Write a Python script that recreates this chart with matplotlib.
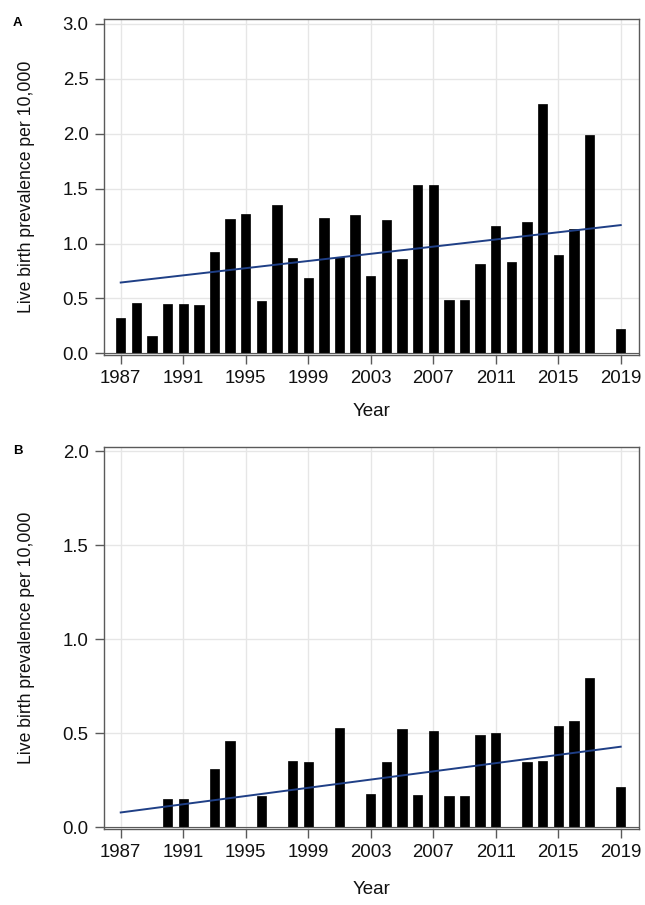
import matplotlib
matplotlib.use("Agg")
import matplotlib.pyplot as plt
import numpy as np

plt.rcParams['font.family'] = ['Liberation Sans', 'DejaVu Sans']

years = list(range(1987, 2020))
# Panel A values (0 = no bar)
prev_a = [0.32, 0.46, 0.16, 0.45, 0.45, 0.44, 0.92, 1.22, 1.27, 0.48,
          1.35, 0.87, 0.69, 1.23, 0.88, 1.26, 0.70, 1.21, 0.86, 1.53,
          1.53, 0.49, 0.49, 0.81, 1.16, 0.83, 1.20, 2.27, 0.90, 1.13,
          1.99, 0.0, 0.22]
# Panel B values
prev_b = [0.0, 0.0, 0.0, 0.15, 0.15, 0.0, 0.31, 0.46, 0.0, 0.165,
          0.0, 0.35, 0.345, 0.0, 0.53, 0.0, 0.175, 0.345, 0.52, 0.17,
          0.51, 0.165, 0.165, 0.49, 0.50, 0.0, 0.345, 0.35, 0.54, 0.565,
          0.795, 0.0, 0.215]
trend_years = [1987, 2019]
trend_a = [0.645, 1.168]
trend_b = [0.078, 0.428]
xticks = [1987, 1991, 1995, 1999, 2003, 2007, 2011, 2015, 2019]
yticks_a = [0.0, 0.5, 1.0, 1.5, 2.0, 2.5, 3.0]
yticks_b = [0.0, 0.5, 1.0, 1.5, 2.0]

W, H = 645, 905
fig = plt.figure(figsize=(W/100, H/100), dpi=100)

def make_ax(top, bottom):
    return fig.add_axes([104/W, 1 - bottom/H, (639-104)/W, (bottom-top)/H])

axA = make_ax(19, 355)
axB = make_ax(447, 829)

line_col = '#1f3f86'
frame_col = '#5a5a5a'
text_col = '#111111'

def style(ax, vals, trend, yticks, ymax, ymin, xlabpad):
    ax.set_axisbelow(True)
    ax.grid(True, color='#e6e6e6', linewidth=1.0)
    ax.bar(years, vals, width=0.6, color='black', edgecolor='black', linewidth=0.5, zorder=2)
    ax.plot(trend_years, trend, color=line_col, linewidth=1.4, zorder=3)
    ax.axhline(0, color=frame_col, linewidth=0.8, zorder=4)
    ax.set_xlim(1985.93, 2020.17)
    ax.set_ylim(ymin, ymax)
    ax.set_xticks(xticks)
    ax.set_xticklabels([str(x) for x in xticks])
    ax.set_yticks(yticks)
    ax.set_yticklabels([f"{y:.1f}" for y in yticks])
    for s in ax.spines.values():
        s.set_color(frame_col)
        s.set_linewidth(1.0)
    ax.tick_params(axis='both', direction='out', length=6.5, width=1.0,
                   color=frame_col, labelsize=13.4, labelcolor=text_col, pad=4.5)
    ax.set_xlabel('Year', fontsize=13.5, labelpad=xlabpad, color=text_col)
    ax.set_ylabel('Live birth prevalence per 10,000', fontsize=12.7, labelpad=20, color=text_col)

style(axA, prev_a, trend_a, yticks_a, 3.045, -0.015, 11)
style(axB, prev_b, trend_b, yticks_b, 2.023, -0.01, 14)

fig.text(13/W, 1 - 23/H, 'A', fontsize=9.5, fontweight='bold', va='center', ha='left')
fig.text(13/W, 1 - 451/H, 'B', fontsize=9.5, fontweight='bold', va='center', ha='left')

fig.savefig('out.png', dpi=100, facecolor='white')
